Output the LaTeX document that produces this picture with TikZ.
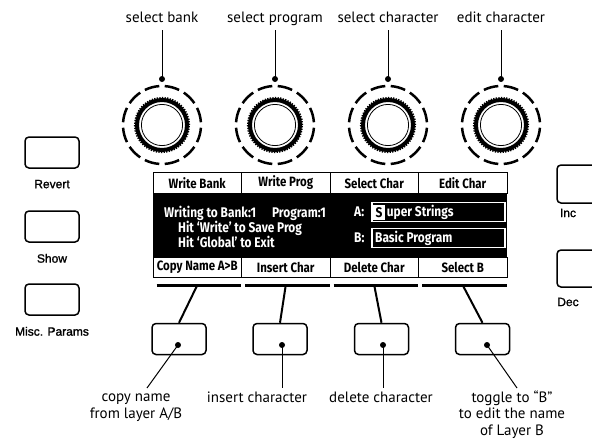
\documentclass[tikz,border=0pt]{standalone}
\usepackage{fontspec}
\setmainfont{PT Sans}
\newfontfamily\lcdfont[FakeStretch=0.85]{Fira Sans}
\newfontfamily\panelfont[FakeBold=1.4]{Liberation Sans}
\usetikzlibrary{positioning}

\tikzset{
  callout/.style={font=\fontsize{15}{16.5}\selectfont, align=center, inner sep=0pt},
  softkey/.style={draw, fill=white, line width=1pt, minimum width=88.5pt, minimum height=20.5pt,
    inner sep=0pt, font=\lcdfont\bfseries\fontsize{13.5}{14}\selectfont},
  lcdtext/.style={text=white, anchor=west, inner sep=0pt, font=\lcdfont\bfseries\fontsize{14}{14}\selectfont},
  namefield/.style={draw=white, line width=1.5pt, minimum width=133pt, minimum height=19pt, inner sep=0pt},
  panelbtn/.style={draw, rounded corners=4pt, line width=1.5pt, minimum width=54pt, minimum height=31pt, inner sep=0pt},
  panellabel/.style={font=\panelfont\fontsize{12}{13}\selectfont, inner sep=0pt},
  lead/.style={line width=1pt},
  bar/.style={line width=3pt},
}

\begin{document}
\begin{tikzpicture}[x=1pt, y=-1pt]
\path[use as bounding box] (0,0) rectangle (592,442);
\clip (0,0) rectangle (592,442);

\foreach \kx/\kname/\ktext in {162/kb/select bank, 275/kp/select program, 388/kc/select character, 501/ke/edit character}{
  \coordinate (\kname) at (\kx,125);
  \coordinate (\kname-dot) at (\kx,79);
  \node[callout, anchor=base] (\kname-lbl) at (\kx,22) {\ktext};
  \draw[lead] ([yshift=-8pt]\kname-lbl.base) -- (\kname-dot);
  \fill (\kname-dot) circle (3pt);
  \foreach \a in {0,30,...,330}
    \draw[line width=2.5pt] ([shift={(\kx,125)}]\a+94:39pt) arc[start angle=\a+94, end angle=\a+116, radius=39pt];
  \draw[line width=4pt] (\kname) circle (25pt);
  \draw[line width=1.6pt, dash pattern=on 1.3pt off 1.3pt] (\kname) circle (27.3pt);
  \draw[line width=0.8pt] (\kname) circle (20.6pt);
}

\node[fill=black, minimum width=354pt, minimum height=64pt, inner sep=0pt] (lcd) at (330,225) {};
\node[softkey] (wbank) at (197.25,183) {Write Bank};
\node[softkey] (wprog) at (285.75,183) {Write Prog};
\node[softkey] (schar) at (374.25,183) {Select Char};
\node[softkey] (echar) at (462.75,183) {Edit Char};
\node[softkey] (cpy) at (197.25,267.5) {Copy Name A>B};
\node[softkey] (ins) at (285.75,267.5) {Insert Char};
\node[softkey] (del) at (374.25,267.5) {Delete Char};
\node[softkey] (selb) at (462.75,267.5) {Select B};

\node[lcdtext] (line1) at (164,213) {Writing to Bank:1\quad\kern2pt Program:1};
\node[lcdtext] (line2) at (178,228) {Hit ‘Write’ to Save Prog};
\node[lcdtext] (line3) at (178,242) {Hit ‘Global’ to Exit};
\node[lcdtext] (alabel) at (354,212) {A:};
\node[lcdtext] (blabel) at (354,238) {B:};
\node[namefield] (afield) at (438.5,212) {};
\node[namefield] (bfield) at (438.5,238) {};
\node[fill=white, minimum width=12pt, minimum height=15pt, inner sep=0pt,
  font=\lcdfont\bfseries\fontsize{14}{14}\selectfont] (cursor) at (379,212.5) {S};
\node[lcdtext, right=1.5pt of cursor] (aname) {uper Strings};
\node[lcdtext] (bname) at (375,238) {Basic Program};

\foreach \k in {cpy,ins,del,selb}{
  \coordinate (\k-bar) at ([yshift=-7pt]\k.south);
  \draw[bar] ([xshift=4pt,yshift=-7pt]\k.south west) -- ([xshift=-1pt,yshift=-7pt]\k.south east);
}

\node[panelbtn] (btn1) at (179,339) {};
\node[panelbtn] (btn2) at (280,339) {};
\node[panelbtn] (btn3) at (381.5,339) {};
\node[panelbtn] (btn4) at (482.5,339) {};
\foreach \k/\b in {cpy/btn1,ins/btn2,del/btn3,selb/btn4}
  \draw[line width=2pt] (\k-bar) -- (\b.north);

\coordinate (dot1) at (178,345);
\coordinate (dot2) at (282,345);
\coordinate (dot3) at (383,345);
\coordinate (dot4) at (487,345);
\foreach \d in {dot1,dot2,dot3,dot4}
  \fill (\d) circle (3pt);

% base of a multi-line node sits on its last line
\node[callout, anchor=base] (lcopy) at (136,418) {copy name\\from layer A/B};
\node[callout, anchor=base] (lins) at (257,402) {insert character};
\node[callout, anchor=base] (ldel) at (381,402) {delete character};
\node[callout, anchor=base] (ltog) at (512,435) {toggle to “B”\\to edit the name\\of Layer B};
\draw[lead] (dot1) -- ([xshift=11pt,yshift=30pt]lcopy.base);
\draw[lead] (dot2) -- ([yshift=14pt]dot2 |- lins.base);
\draw[lead] (dot3) -- ([yshift=14pt]dot3 |- ldel.base);
\draw[lead] (dot4) -- ([xshift=5pt,yshift=47pt]ltog.base);

\node[panelbtn] (revert) at (52,152.5) {};
\node[panelbtn] (show) at (52,226.5) {};
\node[panelbtn] (misc) at (52,299.5) {};
\node[panellabel, below=11pt of revert] (lrevert) {Revert};
\node[panellabel, below=11pt of show] (lshow) {Show};
\node[panellabel, below=11pt of misc] (lmisc) {Misc. Params};

\node[panelbtn, minimum height=38pt] (inc) at (584,184) {};
\node[panelbtn, minimum height=37pt] (dec) at (584,268.5) {};
\node[panellabel] (linc) at (568,213) {Inc};
\node[panellabel] (ldec) at (568,302) {Dec};
\end{tikzpicture}
\end{document}
